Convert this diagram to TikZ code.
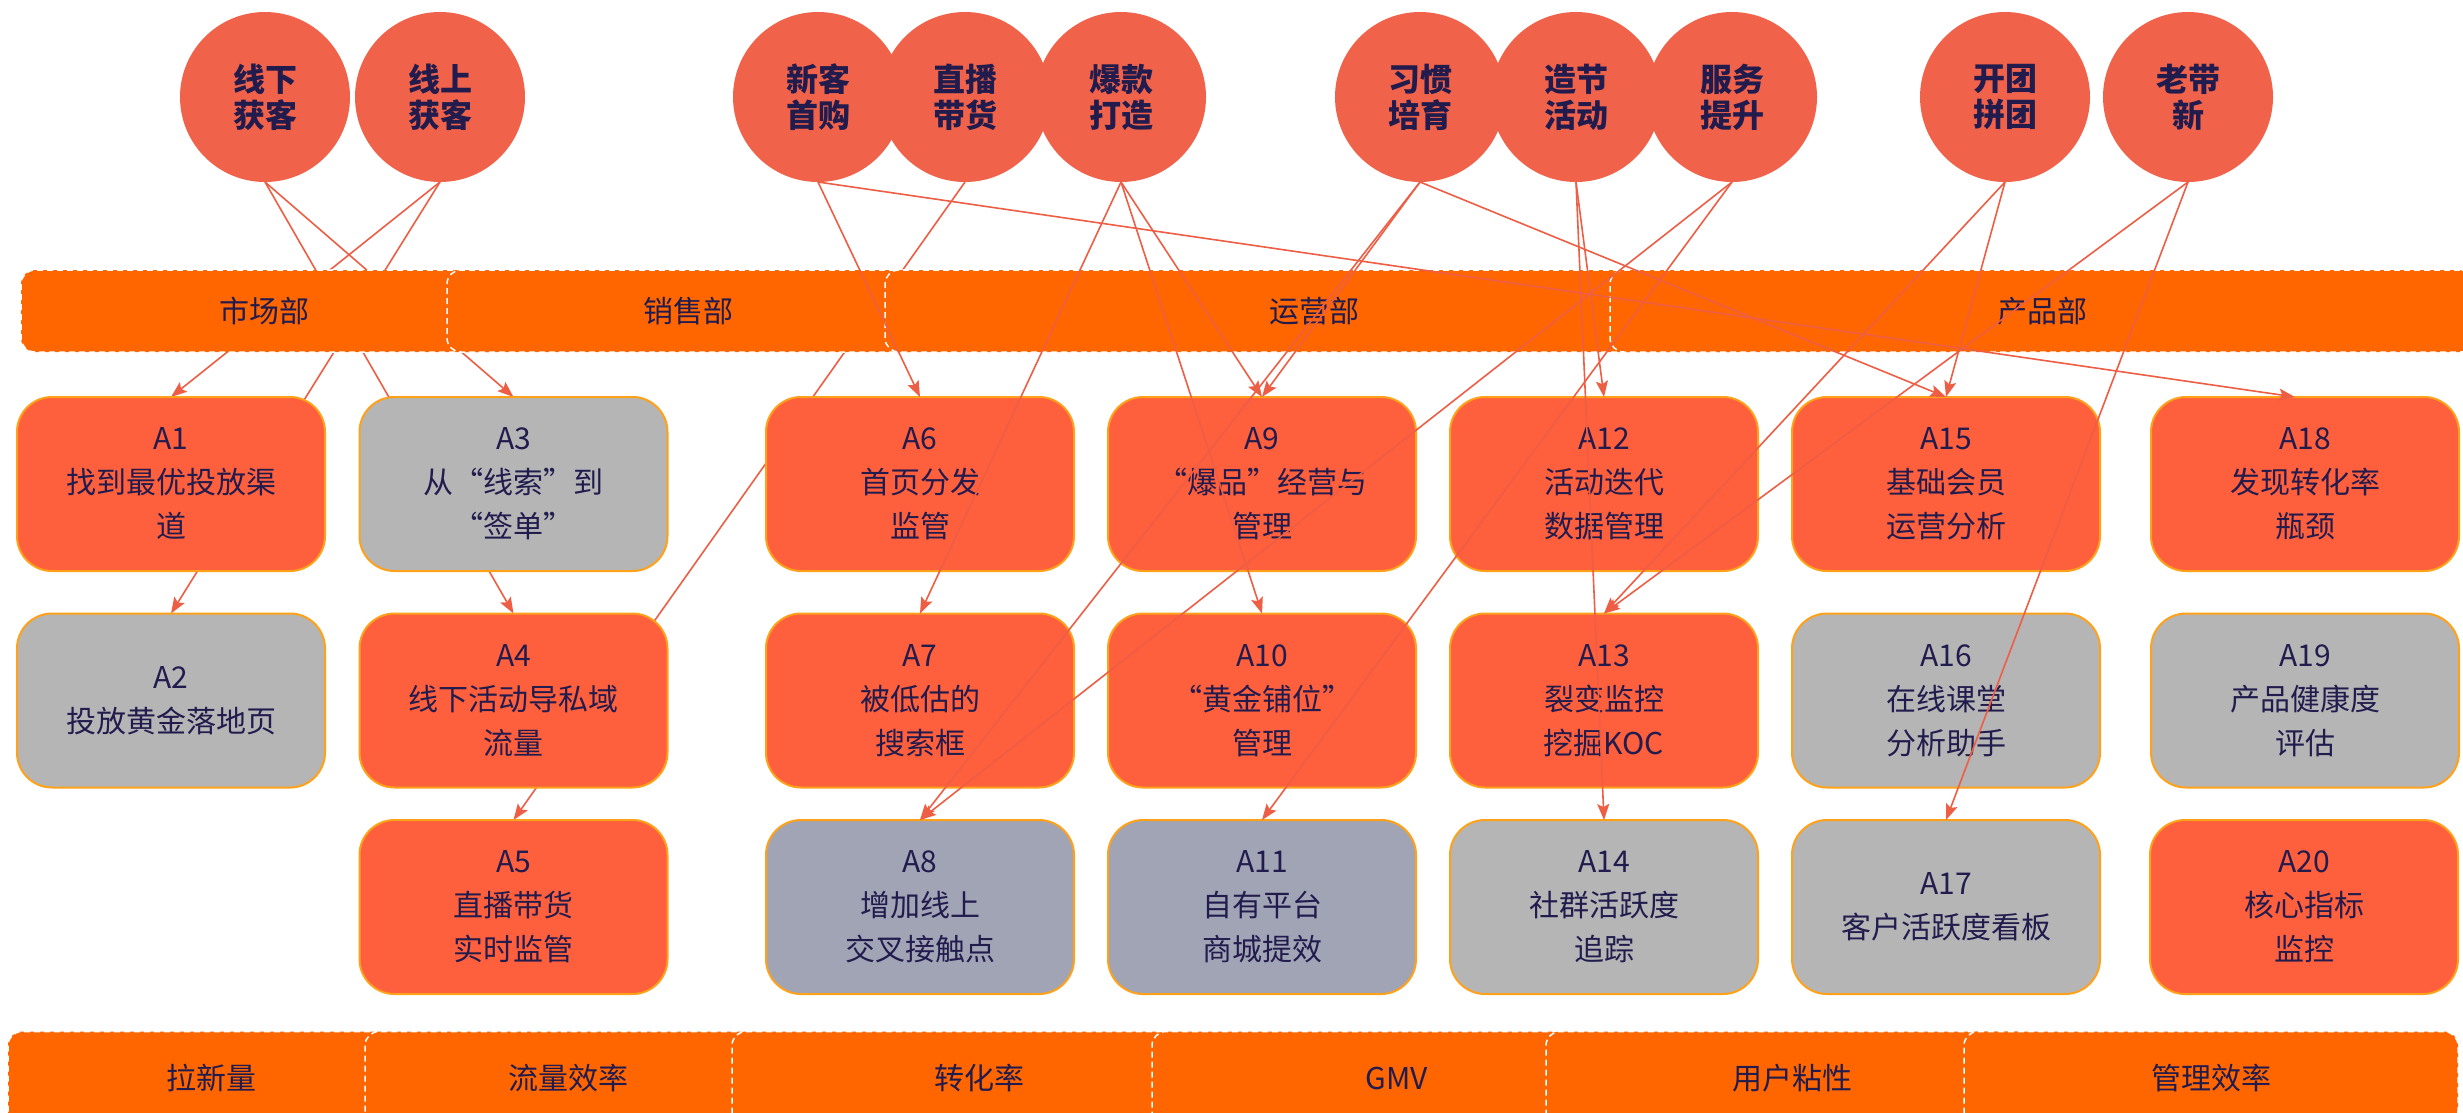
\documentclass[tikz,border=0pt]{standalone}
\usepackage{fontspec}
\setmainfont{Noto Sans CJK SC}
\usetikzlibrary{arrows.meta}
\definecolor{cCirc}{HTML}{F0634A}
\definecolor{cLine}{HTML}{EE5E45}
\definecolor{cOr}{HTML}{FE5F3C}
\definecolor{cGr}{HTML}{B5B5B5}
\definecolor{cBl}{HTML}{A1A4B4}
\definecolor{cBord}{HTML}{FFA21A}
\definecolor{cBar}{HTML}{FF6600}
\definecolor{cTxt}{HTML}{221C4E}
\pgfdeclarelayer{bg}
\pgfsetlayers{bg,main}
\begin{document}
\begin{tikzpicture}[x=1pt,y=-1pt,
  circ/.style={circle, fill=cCirc, minimum size=170pt, inner sep=0pt, outer sep=0pt,
    align=center, text=cTxt, font=\bfseries\fontsize{32}{36}\selectfont},
  abox/.style={rectangle, rounded corners=35pt, draw=cBord, line width=2pt,
    minimum width=308pt, minimum height=174pt, inner sep=0pt, outer sep=0pt,
    align=center, text=cTxt, font=\fontsize{30}{44}\selectfont},
  boxor/.style={abox, fill=cOr},
  boxgr/.style={abox, fill=cGr},
  boxbl/.style={abox, fill=cBl},
  barsec/.style={rectangle, rounded corners=14pt, fill=cBar, draw=white,
    dash pattern=on 6pt off 4pt, line width=1.5pt, inner sep=0pt,
    text=cTxt, font=\fontsize{30}{36}\selectfont},
  conn/.style={draw=cLine, line width=1.6pt,
    -{Stealth[length=16pt,width=12pt,inset=3pt]}}]
\clip (0,0) rectangle (2463,1112);

% circles
\node[circ] (c1) at (265,97) {线下\\获客};
\node[circ] (c2) at (440,97) {线上\\获客};
\node[circ] (c3) at (818,97) {新客\\首购};
\node[circ] (c4) at (965,97) {直播\\带货};
\node[circ] (c5) at (1121,97) {爆款\\打造};
\node[circ] (c6) at (1420,97) {习惯\\培育};
\node[circ] (c7) at (1576,97) {造节\\活动};
\node[circ] (c8) at (1732,97) {服务\\提升};
\node[circ] (c9) at (2005,97) {开团\\拼团};
\node[circ] (c10) at (2188,97) {老带\\新};

% department bar
\node[barsec, minimum width=486pt, minimum height=82pt] (d1) at (264,311) {市场部};
\node[barsec, minimum width=482pt, minimum height=82pt] (d2) at (688,311) {销售部};
\node[barsec, minimum width=858pt, minimum height=82pt] (d3) at (1314,311) {运营部};
\node[barsec, minimum width=864pt, minimum height=82pt] (d4) at (2042,311) {产品部};

% metric bar
\node[barsec, minimum width=406pt, minimum height=93pt] (m1) at (211,1078) {拉新量};
\node[barsec, minimum width=406pt, minimum height=93pt] (m2) at (568,1078) {流量效率};
\node[barsec, minimum width=494pt, minimum height=93pt] (m3) at (979,1078) {转化率};
\node[barsec, minimum width=490pt, minimum height=93pt] (m4) at (1397,1078) {GMV};
\node[barsec, minimum width=492pt, minimum height=93pt] (m5) at (1792,1078) {用户粘性};
\node[barsec, minimum width=494pt, minimum height=93pt] (m6) at (2211,1078) {管理效率};

% boxes
\node[boxor] (A1) at (171,484) {A1\\找到最优投放渠\\道};
\node[boxgr] (A2) at (171,700.5) {A2\\投放黄金落地页};
\node[boxgr] (A3) at (513.5,484) {A3\\从“线索”到\\“签单”};
\node[boxor] (A4) at (513.5,700.5) {A4\\线下活动导私域\\流量};
\node[boxor] (A5) at (513.5,907) {A5\\直播带货\\实时监管};
\node[boxor] (A6) at (920,484) {A6\\首页分发\\监管};
\node[boxor] (A7) at (920,700.5) {A7\\被低估的\\搜索框};
\node[boxbl] (A8) at (920,907) {A8\\增加线上\\交叉接触点};
\node[boxor] (A9) at (1262,484) {A9\\“爆品”经营与\\管理};
\node[boxor] (A10) at (1262,700.5) {A10\\“黄金铺位”\\管理};
\node[boxbl] (A11) at (1262,907) {A11\\自有平台\\商城提效};
\node[boxor] (A12) at (1604,484) {A12\\活动迭代\\数据管理};
\node[boxor] (A13) at (1604,700.5) {A13\\裂变监控\\挖掘KOC};
\node[boxgr] (A14) at (1604,907) {A14\\社群活跃度\\追踪};
\node[boxor] (A15) at (1946,484) {A15\\基础会员\\运营分析};
\node[boxgr] (A16) at (1946,700.5) {A16\\在线课堂\\分析助手};
\node[boxgr] (A17) at (1946,907) {A17\\客户活跃度看板};
\node[boxor] (A18) at (2305,484) {A18\\发现转化率\\瓶颈};
\node[boxgr] (A19) at (2305,700.5) {A19\\产品健康度\\评估};
\node[boxor] (A20) at (2304,907) {A20\\核心指标\\监控};

% connectors hidden behind bar and boxes
\begin{pgfonlayer}{bg}
\fill[white] (0,0) rectangle (2463,1112);
\draw[conn] (c1.south) -- (A3.north);
\draw[conn] (c1.south) -- (A4.north);
\draw[conn] (c2.south) -- (A1.north);
\draw[conn] (c2.south) -- (A2.north);
\draw[conn] (c4.south) -- (A5.north);
\end{pgfonlayer}

% connectors drawn over everything
\draw[conn] (c3.south) -- (A6.north);
\draw[conn] (c3.south) -- ([xshift=-10pt]A18.north);
\draw[conn] (c5.south) -- (A7.north);
\draw[conn] (c5.south) -- (A9.north);
\draw[conn] (c5.south) -- (A10.north);
\draw[conn] (c6.south) -- (A9.north);
\draw[conn] (c6.south) -- (A15.north);
\draw[conn] (c6.south) -- (A8.north);
\draw[conn] (c7.south) -- (A12.north);
\draw[conn] (c7.south) -- (A14.north);
\draw[conn] (c8.south) -- (A8.north);
\draw[conn] (c8.south) -- (A11.north);
\draw[conn] (c9.south) -- (A15.north);
\draw[conn] (c9.south) -- (A13.north);
\draw[conn] (c10.south) -- (A13.north);
\draw[conn] (c10.south) -- (A17.north);
\end{tikzpicture}
\end{document}
